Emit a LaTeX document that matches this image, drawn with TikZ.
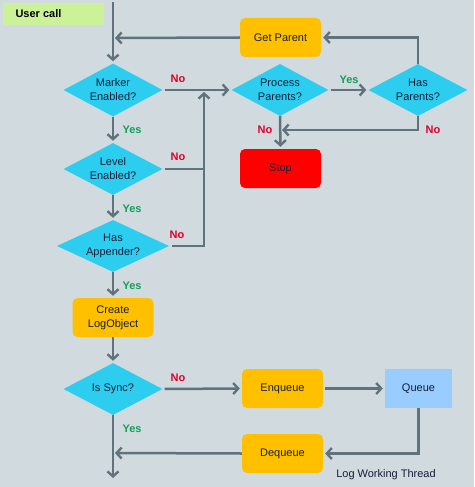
\documentclass[tikz,border=0pt]{standalone}
\usepackage{fontspec}
\setmainfont{Liberation Sans}
\usetikzlibrary{shapes.geometric,arrows.meta}
\definecolor{bgc}{RGB}{209,218,223}
\definecolor{linec}{RGB}{96,115,125}
\definecolor{diac}{RGB}{45,205,240}
\definecolor{orangec}{RGB}{255,192,0}
\definecolor{redc}{RGB}{255,0,0}
\definecolor{queuec}{RGB}{153,204,255}
\definecolor{userc}{RGB}{204,242,153}
\definecolor{noc}{RGB}{225,0,40}
\definecolor{yesc}{RGB}{20,160,85}
\definecolor{txtc}{RGB}{20,30,55}
\tikzset{
  dec/.style={diamond, aspect=1.9, fill=diac, inner sep=0pt, minimum width=99pt, minimum height=52pt, align=center, text=txtc, font=\fontsize{11}{14}\selectfont},
  proc/.style={rectangle, rounded corners=5pt, fill=orangec, minimum width=81pt, minimum height=39pt, inner sep=0pt, align=center, text=txtc, font=\fontsize{11}{14}\selectfont},
  conn/.style={draw=linec, line width=2.5pt},
  arr/.style={conn, shorten >=2pt, -{Straight Barb[length=5pt,width=11pt,line width=2.4pt]}},
  nolab/.style={text=noc, font=\bfseries\fontsize{11}{13}\selectfont},
  yeslab/.style={text=yesc, font=\bfseries\fontsize{11}{13}\selectfont},
}
\begin{document}
\begin{tikzpicture}[x=1pt,y=-1pt]
\fill[bgc] (0,0) rectangle (474,487);
\useasboundingbox (0,0) rectangle (474,487);
% nodes
\node[fill=userc, minimum width=101pt, minimum height=22pt, inner sep=0pt] (user) at (53.5,14) {};
\node[anchor=west, font=\bfseries\fontsize{11}{13}\selectfont, text=black] (usertxt) at (12,14) {User call};
\node[dec, minimum height=53pt] (marker) at (113,90) {Marker\\Enabled?};
\node[dec] (level) at (113,169) {Level\\Enabled?};
\node[dec, aspect=2.15, minimum width=112pt] (append) at (113,246) {Has\\Appender?};
\node[proc] (create) at (113,317.5) {Create\\LogObject};
\node[dec] (sync) at (113,389) {Is Sync?};
\node[proc] (enqueue) at (282.5,388.5) {Enqueue};
\node[rectangle, fill=queuec, minimum width=67pt, minimum height=39pt, inner sep=0pt, text=txtc, font=\fontsize{11}{14}\selectfont] (queue) at (418.5,388.5) {Queue};
\node[proc] (dequeue) at (282.5,453.5) {Dequeue};
\node[proc] (getparent) at (280.5,37.5) {Get Parent};
\node[dec, minimum width=97pt] (process) at (280,90) {Process\\Parents?};
\node[dec] (hasparents) at (418,90) {Has\\Parents?};
\node[proc, fill=redc] (stop) at (280.5,168.5) {Stop};
\node[text=txtc, font=\fontsize{11}{13}\selectfont] (lwt) at (386,475) {Log Working Thread};
% coordinates
\coordinate (top) at (113,2);
\coordinate (j1) at (113,38);
\coordinate (jA) at (204,246);
\coordinate (jB) at (204,90);
\coordinate (j2) at (280,130);
\coordinate (j3) at (113,453);
\coordinate (bot) at (113,480);
% connectors
\draw[arr] (top) -- (marker.north);
\draw[arr] (getparent.west) -- (j1);
\draw[arr, shorten <=2pt] (marker.east) -- (process.west);
\draw[arr] (jA) -- (jB);
\draw[conn, shorten <=2pt] (level.east) -- (level.east -| jA);
\draw[conn, shorten <=3pt] (append.east) -- ([xshift=1.25pt]jA);
\draw[arr] (marker.south) -- (level.north);
\draw[arr] (level.south) -- (append.north);
\draw[arr] (append.south) -- (create.north);
\draw[arr] (create.south) -- (sync.north);
\draw[arr, shorten <=2pt] (sync.east) -- (enqueue.west);
\draw[arr, shorten <=2pt] (enqueue.east) -- (queue.west);
\draw[arr] (queue.south) |- (dequeue.east);
\draw[arr] (dequeue.west) -- (j3);
\draw[arr] (sync.south) -- (bot);
\draw[arr, shorten <=2pt] (process.east) -- (hasparents.west);
\draw[arr] (hasparents.north) |- (getparent.east);
\draw[arr] (hasparents.south) |- (j2);
\draw[arr] (process.south) -- (stop.north);
% labels
\node[nolab] (no1) at (178,79) {No};
\node[nolab] (no2) at (178,157) {No};
\node[nolab] (no3) at (177,235) {No};
\node[nolab] (no4) at (178,378) {No};
\node[nolab] (no5) at (265,130) {No};
\node[nolab] (no6) at (433,130) {No};
\node[yeslab] (yes1) at (132,130) {Yes};
\node[yeslab] (yes2) at (132,209) {Yes};
\node[yeslab] (yes3) at (132,286) {Yes};
\node[yeslab] (yes4) at (132,429) {Yes};
\node[yeslab] (yes5) at (349,80) {Yes};
\end{tikzpicture}
\end{document}
